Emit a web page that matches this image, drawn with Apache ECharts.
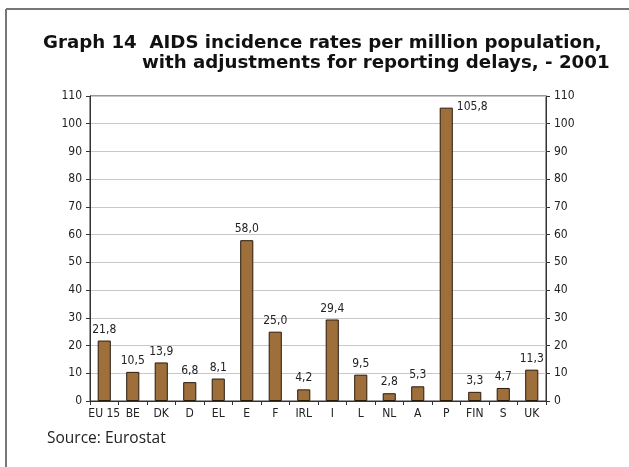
<!DOCTYPE html>
<html><head><meta charset="utf-8">
<script src="https://cdn.jsdelivr.net/npm/echarts@6/dist/echarts.min.js"></script>
<style>html,body{margin:0;padding:0;background:#fff}#c{width:629px;height:467px}</style>
</head><body><div id="c"></div>
<script>
var categories = ['EU 15','BE','DK','D','EL','E','F','IRL','I','L','NL','A','P','FIN','S','UK'];
var values = [21.8,10.5,13.9,6.8,8.1,58.0,25.0,4.2,29.4,9.5,2.8,5.3,105.8,3.3,4.7,11.3];
var yMin = 0, yMax = 110, yStep = 10;
var titleLine1 = 'Graph 14  AIDS incidence rates per million population,';
var titleLine2 = 'with adjustments for reporting delays, - 2001';
var sourceText = 'Source: Eurostat';

var narrow = '"Liberation Sans Narrow","DejaVu Sans Condensed",sans-serif';
var chart = echarts.init(document.getElementById('c'));
var yAxisCommon = {
  type:'value', min:yMin, max:yMax, interval:yStep,
  axisLine:{show:true, lineStyle:{color:'#333', width:1}},
  axisTick:{show:true, length:4, lineStyle:{color:'#333'}},
  axisLabel:{color:'#222', fontFamily:narrow, fontSize:12, margin:8},
};
var barData = values.map(function(v, i){
  var d = {value:v};
  if (v > yMax - 8) {
    d.label = {position:['100%', 0], offset:[4, -1], align:'left', verticalAlign:'middle'};
  }
  return d;
});
chart.setOption({
  animation:false,
  grid:{left:90, right:83, top:96, bottom:66, show:true, borderColor:'#333', borderWidth:1},
  graphic:[
    {type:'line', shape:{x1:6,y1:9,x2:6,y2:467}, style:{stroke:'#777', lineWidth:2}},
    {type:'line', shape:{x1:6,y1:9,x2:629,y2:9}, style:{stroke:'#777', lineWidth:2}},
    {type:'text', left:43, top:34, style:{text:titleLine1, font:'bold 18.2px "DejaVu Sans", sans-serif', fill:'#111'}},
    {type:'text', left:142, top:54, style:{text:titleLine2, font:'bold 18.2px "DejaVu Sans", sans-serif', fill:'#111'}},
    {type:'text', left:47, top:431, style:{text:sourceText, font:'15.5px "Open Sans", sans-serif', fill:'#222'}}
  ],
  xAxis:{
    type:'category', data:categories,
    axisLine:{lineStyle:{color:'#333'}},
    axisTick:{show:true, length:4, interval:0, lineStyle:{color:'#333'}},
    axisLabel:{color:'#222', fontFamily:narrow, fontSize:12, interval:0, margin:7}
  },
  yAxis:[
    Object.assign({position:'left', splitLine:{show:true, lineStyle:{color:'#c8c8c8'}}}, yAxisCommon),
    Object.assign({position:'right', splitLine:{show:false}}, yAxisCommon)
  ],
  series:[{
    type:'bar', data:barData, barWidth:'46%', yAxisIndex:0,
    itemStyle:{color:'#9e6e3b', borderColor:'#2a1a0a', borderWidth:1},
    label:{show:true, position:'top', distance:5, color:'#222', fontFamily:narrow, fontSize:12,
      formatter:function(p){return p.value.toFixed(1).replace('.',',');}}
  }]
});
</script></body></html>
